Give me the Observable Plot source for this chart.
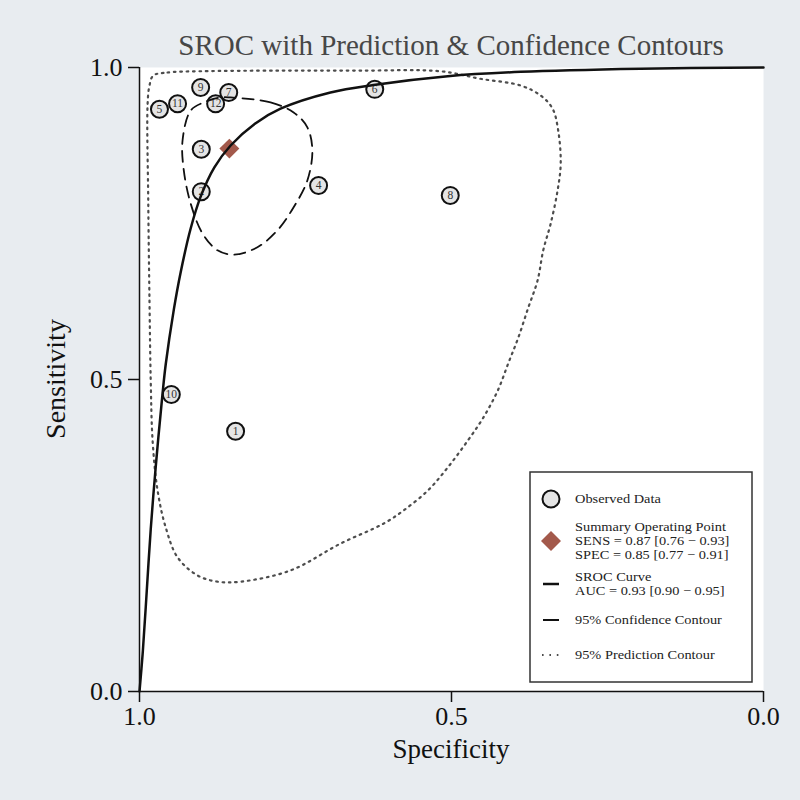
<!DOCTYPE html>
<html>
<head>
<meta charset="utf-8">
<script src="https://cdn.jsdelivr.net/npm/d3@7"></script>
<script src="https://cdn.jsdelivr.net/npm/@observablehq/plot@0.6"></script>
<style>
html, body { margin: 0; padding: 0; background: #e8ecf0; }
#chart { width: 800px; height: 800px; }
</style>
</head>
<body>
<div id="chart"></div>
<script>
// ---- Data ----
const studyIds   = [1, 2, 3, 4, 5, 6, 7, 8, 9, 10, 11, 12];
const studySpec  = [0.846, 0.901, 0.901, 0.713, 0.968, 0.623, 0.857, 0.502, 0.902, 0.949, 0.939, 0.878];
const studySens  = [0.417, 0.801, 0.869, 0.811, 0.933, 0.965, 0.960, 0.795, 0.968, 0.476, 0.942, 0.942];

const summarySpec = [0.856];
const summarySens = [0.870];

const srocSpec = [1.000, 0.995, 0.990, 0.982, 0.974, 0.963, 0.958, 0.945, 0.934, 0.918, 0.902, 0.880, 0.854, 0.815, 0.774, 0.694, 0.625, 0.506, 0.389, 0.197, 0.000];
const srocSens = [0.000, 0.060, 0.135, 0.260, 0.360, 0.478, 0.524, 0.612, 0.672, 0.742, 0.793, 0.840, 0.875, 0.910, 0.934, 0.960, 0.972, 0.986, 0.993, 0.998, 1.000];

const confSpec = [0.854, 0.790, 0.753, 0.731, 0.723, 0.731, 0.753, 0.779, 0.811, 0.849, 0.875, 0.899, 0.918, 0.929, 0.931, 0.918, 0.897, 0.870];
const confSens = [0.952, 0.944, 0.928, 0.904, 0.867, 0.819, 0.776, 0.739, 0.712, 0.700, 0.707, 0.734, 0.782, 0.835, 0.883, 0.931, 0.944, 0.952];

const predSpec = [0.978, 0.955, 0.902, 0.774, 0.646, 0.518, 0.454, 0.389, 0.357, 0.338, 0.329, 0.325, 0.330, 0.341, 0.353, 0.362, 0.377, 0.393, 0.409, 0.426, 0.449, 0.474, 0.506, 0.538, 0.577, 0.609, 0.678, 0.758, 0.838, 0.875, 0.907, 0.939, 0.958, 0.971, 0.979, 0.982, 0.984, 0.986, 0.987, 0.984];
const predSens = [0.987, 0.992, 0.994, 0.995, 0.995, 0.994, 0.982, 0.971, 0.955, 0.934, 0.899, 0.846, 0.803, 0.750, 0.707, 0.659, 0.615, 0.567, 0.526, 0.482, 0.439, 0.402, 0.359, 0.322, 0.290, 0.269, 0.237, 0.194, 0.176, 0.176, 0.186, 0.215, 0.263, 0.322, 0.402, 0.498, 0.627, 0.787, 0.942, 0.971];

const xTicks = [1, 0.5, 0];
const yTicks = [0, 0.5, 1];

const titleText = "SROC with Prediction & Confidence Contours";
const xLabel = "Specificity";
const yLabel = "Sensitivity";
const legendObserved = ["Observed Data"];
const legendSummary = ["Summary Operating Point", "SENS = 0.87 [0.76 \u2212 0.93]", "SPEC = 0.85 [0.77 \u2212 0.91]"];
const legendSroc = ["SROC Curve", "AUC = 0.93 [0.90 \u2212 0.95]"];
const legendConf = ["95% Confidence Contour"];
const legendPred = ["95% Prediction Contour"];

// ---- Tables built from the arrays ----
const studies = studyIds.map((id, i) => ({id, spec: studySpec[i], sens: studySens[i]}));
const summary = summarySpec.map((s, i) => ({spec: s, sens: summarySens[i]}));
const sroc = srocSpec.map((s, i) => ({spec: s, sens: srocSens[i]}));
const conf = confSpec.map((s, i) => ({spec: s, sens: confSens[i]}));
const pred = predSpec.map((s, i) => ({spec: s, sens: predSens[i]}));

const serif = "'Liberation Serif', 'Times New Roman', Times, serif";
const fmt = d3.format(".1f");

const svg = Plot.plot({
  width: 800,
  height: 800,
  marginLeft: 139,
  marginRight: 37,
  marginTop: 67,
  marginBottom: 109,
  style: {background: "transparent", fontFamily: serif, fontSize: "26px", color: "#111"},
  x: {domain: [1, 0]},
  y: {domain: [0, 1]},
  marks: [
    Plot.frame({fill: "white", stroke: "none"}),
    Plot.axisX({ticks: xTicks, tickFormat: fmt, tickSize: 11, tickPadding: 4, label: null, fontSize: 26, strokeWidth: 1.5}),
    Plot.axisY({ticks: yTicks, tickFormat: fmt, tickSize: 11, tickPadding: 6, label: null, fontSize: 26, strokeWidth: 1.5}),
    Plot.ruleX([1], {stroke: "#111", strokeWidth: 1.5}),
    Plot.ruleY([0], {stroke: "#111", strokeWidth: 1.5}),
    Plot.dot(studies, {x: "spec", y: "sens", r: 8.5, fill: "#e4e4e4", stroke: "#111", strokeWidth: 2}),
    Plot.text(studies, {x: "spec", y: "sens", text: "id", fontSize: 11.5, fill: "#333", fontFamily: serif}),
    Plot.dot(summary, {x: "spec", y: "sens", symbol: "diamond2", r: 9, fill: "#a3594b", stroke: "none"}),
    Plot.line(pred, {x: "spec", y: "sens", curve: "catmull-rom-closed", stroke: "#4d4d4d", strokeWidth: 2.2, strokeDasharray: "1.6,4.8"}),
    Plot.line(conf, {x: "spec", y: "sens", curve: "catmull-rom-closed", stroke: "#111", strokeWidth: 1.8, strokeDasharray: "11,7"}),
    Plot.line(sroc, {x: "spec", y: "sens", curve: "catmull-rom", stroke: "#111", strokeWidth: 2.5})
  ]
});

const root = d3.select(svg);

// Title
root.append("text")
  .attr("x", 451).attr("y", 55)
  .attr("text-anchor", "middle")
  .attr("font-family", serif).attr("font-size", 29)
  .attr("fill", "#474747")
  .text(titleText);

// Axis titles
root.append("text")
  .attr("x", 451).attr("y", 758)
  .attr("text-anchor", "middle")
  .attr("font-family", serif).attr("font-size", 27)
  .attr("fill", "#111")
  .text(xLabel);

root.append("text")
  .attr("transform", "translate(65,379) rotate(-90)")
  .attr("text-anchor", "middle")
  .attr("font-family", serif).attr("font-size", 28)
  .attr("fill", "#111")
  .text(yLabel);

// Legend
const lg = root.append("g")
  .attr("font-family", serif).attr("font-size", 12.5).attr("fill", "#222")
  .attr("text-anchor", "start");
lg.append("rect").attr("x", 530).attr("y", 472).attr("width", 222).attr("height", 210)
  .attr("fill", "white").attr("stroke", "#333").attr("stroke-width", 1.5);

const tx = 575;
function lines(arr, y0, dy) {
  arr.forEach((t, i) => {
    lg.append("text")
      .attr("transform", `translate(${tx},${y0 + i * dy}) scale(1.15,1)`)
      .attr("dy", "0.35em")
      .attr("text-anchor", "start").text(t);
  });
}
lg.append("circle").attr("cx", 551).attr("cy", 499).attr("r", 8.5)
  .attr("fill", "#e4e4e4").attr("stroke", "#111").attr("stroke-width", 2);
lines(legendObserved, 499, 0);

lg.append("path").attr("d", d3.symbol(d3.symbolDiamond2, 254)())
  .attr("transform", "translate(551,541)").attr("fill", "#a3594b");
lines(legendSummary, 527, 14);

lg.append("line").attr("x1", 543).attr("x2", 559).attr("y1", 584).attr("y2", 584)
  .attr("stroke", "#111").attr("stroke-width", 2.5);
lines(legendSroc, 577, 14);

lg.append("line").attr("x1", 543).attr("x2", 559).attr("y1", 620).attr("y2", 620)
  .attr("stroke", "#111").attr("stroke-width", 2);
lines(legendConf, 620, 0);

lg.append("line").attr("x1", 542).attr("x2", 560).attr("y1", 655).attr("y2", 655)
  .attr("stroke", "#4d4d4d").attr("stroke-width", 2).attr("stroke-dasharray", "1.6,5.8");
lines(legendPred, 655, 0);

document.getElementById("chart").appendChild(svg);
</script>
</body>
</html>
